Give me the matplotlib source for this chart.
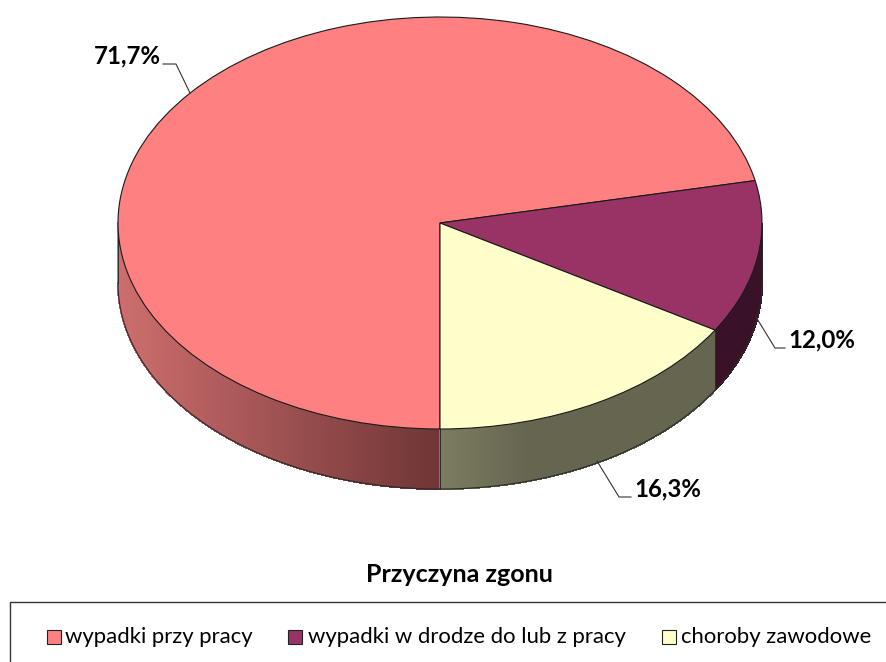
import numpy as np
import matplotlib
matplotlib.use('Agg')
import matplotlib.pyplot as plt
from matplotlib.patches import Rectangle

plt.rcParams['font.family'] = ['Lato', 'DejaVu Sans']

# Data
categories = ['wypadki przy pracy', 'wypadki w drodze do lub z pracy', 'choroby zawodowe']
shares = [71.7, 12.0, 16.3]
share_labels = ['71,7%', '12,0%', '16,3%']
top_colors = ['#FF8080', '#993366', '#FFFFCC']
legend_title = 'Przyczyna zgonu'

# Side shading from left to right, and how fast it gets there
side_colors = [('#CE6E6E', '#6F3535'), ('#3A1228', '#3A1228'), ('#7C7C60', '#656550')]
side_ramps = [1.0, 1.0, 3.0]

WIDTH, HEIGHT = 887, 662
CX, CY, RX, RY, DEPTH = 440, 223, 322, 206, 60


def to_data(x, y):
    # pixel position in the image to axes units, where the pie is a unit circle
    return (x - CX) / RX, (CY - y) / RY


def blend(c1, c2, t):
    a = np.array(matplotlib.colors.to_rgb(c1))
    b = np.array(matplotlib.colors.to_rgb(c2))
    return a + (b - a) * t


def draw_side(ax, lo, hi, c_left, c_right, ramp):
    # lo and hi in degrees, only the front half of the rim can be seen
    d = DEPTH / RY
    steps = np.linspace(lo, hi, 160)
    x_lo, x_hi = np.cos(np.radians(lo)), np.cos(np.radians(hi))
    for i in range(len(steps) - 1):
        a = np.radians(steps[i:i + 2])
        xs = np.concatenate([np.cos(a), np.cos(a[::-1])])
        ys = np.concatenate([np.sin(a), np.sin(a[::-1]) - d])
        t = min(1.0, (xs[0] - x_lo) / (x_hi - x_lo) * ramp)
        col = blend(c_left, c_right, t)
        ax.fill(xs, ys, facecolor=col, edgecolor=col, lw=0.8, antialiased=False, zorder=0.5)
    a = np.radians(np.linspace(lo, hi, 120))
    ax.plot(np.cos(a), np.sin(a) - d, color='#2b2b2b', lw=0.8, zorder=0.6)
    for th in (lo, hi):
        r = np.radians(th)
        ax.plot([np.cos(r)] * 2, [np.sin(r), np.sin(r) - d], color='#2b2b2b', lw=0.7, zorder=0.6)


fig = plt.figure(figsize=(WIDTH / 100, HEIGHT / 100), dpi=100)
ax = fig.add_axes([0, 0, 1, 1])

ax.pie(shares, colors=top_colors, startangle=270, counterclock=False, radius=1,
       wedgeprops={'edgecolor': '#1a1a1a', 'linewidth': 0.8})
ax.set_aspect('auto')
ax.set_xlim(to_data(0, 0)[0], to_data(WIDTH, 0)[0])
ax.set_ylim(to_data(0, HEIGHT)[1], to_data(0, 0)[1])
ax.axis('off')

# rim of the pie, clockwise from the bottom as in the pie call
edges = 270 - np.cumsum([0] + shares) * 3.6
for i in range(len(shares)):
    hi, lo = edges[i], edges[i + 1]
    if lo < 0:
        hi, lo = hi + 360, lo + 360
    draw_side(ax, max(lo, 180), min(hi, 360), side_colors[i][0], side_colors[i][1], side_ramps[i])

# labels with their leader lines
label_pos = [(127, 56), (822, 340), (668, 489)]
leaders = [[(190, 93), (176, 64), (163, 64)],
           [(756, 317), (775, 348), (785, 348)],
           [(597, 461), (619, 497), (631, 497)]]
for lab, pos, pts in zip(share_labels, label_pos, leaders):
    lx, ly = zip(*[to_data(*p) for p in pts])
    ax.plot(lx, ly, color='#333333', lw=0.8, zorder=2)
    ax.text(*to_data(*pos), lab, fontsize=17.3, fontweight='bold', ha='center', va='center', color='black')

ax.text(*to_data(459, 574), legend_title, fontsize=18, fontweight='bold', ha='center', va='center', color='black')

# legend box runs off the right and bottom of the image
bx, by = to_data(9.5, 602)
bx2, by2 = to_data(WIDTH + 10, HEIGHT + 10)
ax.add_patch(Rectangle((bx, by2), bx2 - bx, by - by2, facecolor='white', edgecolor='#333333', lw=1.0, zorder=1, clip_on=False))

swatch_x = [47, 288, 662]
text_x = [65, 308, 681]
for name, col, sx, tx in zip(categories, top_colors, swatch_x, text_x):
    x0, y0 = to_data(sx, 644)
    x1, y1 = to_data(sx + 14, 630)
    ax.add_patch(Rectangle((x0, y0), x1 - x0, y1 - y0, facecolor=col, edgecolor='#222222', lw=0.8, zorder=2))
    ax.text(*to_data(tx, 637), name, fontsize=15.9, ha='left', va='center', color='black', zorder=2)

fig.savefig('out.png', dpi=100)
